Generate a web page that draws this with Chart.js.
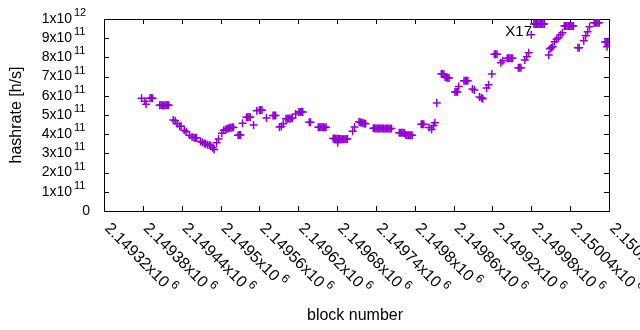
<!DOCTYPE html>
<html>
<head>
<meta charset="utf-8">
<script src="https://cdn.jsdelivr.net/npm/chart.js@4.4.0/dist/chart.umd.min.js"></script>
<style>
  html, body { margin: 0; padding: 0; background: #fff; }
  #wrap { width: 640px; height: 330px; }
</style>
</head>
<body>
<div id="wrap"><canvas id="hashChart" width="640" height="330"></canvas></div>
<script>
// block numbers and hashrate (in units of 1e11 h/s)
// one line per cluster, same layout in both arrays
const blocks = [
  2149378, 2149383, 2149385,
  2149391, 2149393, 2149395,
  2149406, 2149408, 2149410, 2149412, 2149414, 2149416, 2149418, 2149420,
  2149427, 2149430, 2149433, 2149437, 2149439,
  2149444, 2149447, 2149452, 2149456, 2149459, 2149461, 2149463,
  2149469, 2149472, 2149475, 2149477, 2149480, 2149483, 2149485, 2149488, 2149490,
  2149494, 2149497, 2149502, 2149505, 2149508, 2149510, 2149512, 2149514, 2149516, 2149518, 2149520,
  2149527, 2149529, 2149531, 2149534,
  2149540, 2149542, 2149544, 2149546, 2149551,
  2149556, 2149560, 2149562, 2149564, 2149571,
  2149581, 2149583, 2149585, 2149591, 2149594, 2149597,
  2149601, 2149603, 2149605, 2149607, 2149609, 2149611, 2149616,
  2149621, 2149623, 2149625, 2149627, 2149637, 2149639,
  2149651, 2149653, 2149655, 2149657, 2149659, 2149661, 2149663,
  2149674, 2149676, 2149678, 2149680, 2149682, 2149684, 2149686, 2149688, 2149690, 2149692, 2149694, 2149696,
  2149681, 2149704, 2149707,
  2149714, 2149716, 2149718, 2149720, 2149722, 2149724,
  2149736, 2149738, 2149740, 2149742, 2149744, 2149746, 2149748, 2149750, 2149752, 2149754, 2149756, 2149758, 2149760, 2149762, 2149764,
  2149776, 2149778, 2149780, 2149782, 2149784,
  2149786, 2149788, 2149790, 2149792, 2149794, 2149796,
  2149810, 2149812, 2149814,
  2149822, 2149826, 2149829, 2149831, 2149834,
  2149841, 2149843, 2149845, 2149847, 2149849, 2149851, 2149853,
  2149862, 2149864, 2149866, 2149868,
  2149876, 2149878, 2149880, 2149882,
  2149889, 2149892, 2149900, 2149903, 2149905,
  2149911, 2149914, 2149919,
  2149923, 2149925, 2149927,
  2149933, 2149936,
  2149943, 2149945, 2149947, 2149949, 2149951,
  2149960, 2149962, 2149964,
  2149970, 2149973, 2149976, 2149980,
  2149984, 2149986, 2149988, 2149990, 2149992, 2149994, 2149996, 2149998, 2150000,
  2150007, 2150009, 2150011, 2150013,
  2150016, 2150019, 2150022, 2150025, 2150028,
  2150031, 2150033, 2150035, 2150037, 2150039, 2150041, 2150043, 2150045,
  2150052, 2150054,
  2150061, 2150064, 2150067, 2150070,
  2150077, 2150079, 2150081, 2150083, 2150085,
  2150094, 2150096, 2150097, 2150098, 2150100
];
const hashrate = [
  5.87, 5.72, 5.56,
  5.87, 5.88, 5.87,
  5.51, 5.52, 5.51, 5.50, 5.51, 5.51, 5.52, 5.51,
  4.74, 4.70, 4.55, 4.41, 4.42,
  4.20, 4.13, 3.95, 3.85, 3.82, 3.82, 3.81,
  3.62, 3.58, 3.52, 3.50, 3.45, 3.42, 3.40, 3.30, 3.20,
  3.55, 3.75, 4.05, 4.20, 4.25, 4.28, 4.30, 4.33, 4.33, 4.35, 4.36,
  3.95, 3.96, 3.96, 4.57,
  4.88, 4.88, 4.89, 4.88, 4.48,
  5.22, 5.25, 5.26, 5.25, 4.84,
  4.98, 4.98, 4.98, 4.37, 4.40, 4.55,
  4.81, 4.81, 4.82, 4.81, 4.82, 4.85, 5.05,
  5.16, 5.16, 5.17, 5.16, 4.62, 4.62,
  4.36, 4.36, 4.37, 4.36, 4.36, 4.35, 4.36,
  3.77, 3.77, 3.76, 3.76, 3.76, 3.75, 3.75, 3.74, 3.74, 3.74, 3.75, 3.75,
  3.55, 4.16, 4.37,
  4.65, 4.62, 4.60, 4.58, 4.56, 4.54,
  4.31, 4.31, 4.30, 4.30, 4.30, 4.30, 4.31, 4.30, 4.30, 4.29, 4.30, 4.30, 4.30, 4.29, 4.30,
  4.08, 4.08, 4.07, 4.07, 4.06,
  3.96, 3.95, 3.95, 3.95, 3.94, 3.94,
  4.52, 4.52, 4.52,
  4.35, 4.25, 4.45, 4.60, 5.62,
  7.15, 7.14, 7.12, 6.97, 6.95, 6.94, 6.93,
  6.20, 6.21, 6.20, 6.48,
  6.78, 6.78, 6.78, 6.78,
  6.35, 6.30, 5.94, 5.90, 5.84,
  6.41, 6.57, 7.13,
  8.17, 8.17, 8.17,
  7.72, 7.82,
  7.96, 7.96, 7.96, 7.96, 7.96,
  7.46, 7.46, 7.46,
  7.87, 8.03, 8.24, 9.18,
  9.74, 9.74, 9.74, 9.74, 9.74, 9.74, 9.74, 9.74, 9.74,
  8.13, 8.45, 8.50, 8.55,
  8.81, 8.94, 9.02, 9.18, 9.28,
  9.63, 9.63, 9.63, 9.63, 9.63, 9.63, 9.63, 9.63,
  8.50, 8.50,
  8.87, 9.13, 9.33, 9.60,
  9.81, 9.81, 9.81, 9.81, 9.81,
  8.80, 8.80, 8.55, 8.81, 8.80
];

const xTicks = [2149320, 2149380, 2149440, 2149500, 2149560, 2149620, 2149680,
  2149740, 2149800, 2149860, 2149920, 2149980, 2150040, 2150100];
const xTickLabels = ["2.14932", "2.14938", "2.14944", "2.1495", "2.14956", "2.14962", "2.14968",
  "2.14974", "2.1498", "2.14986", "2.14992", "2.14998", "2.15004", "2.1501"];
const yTicks = [0, 1e11, 2e11, 3e11, 4e11, 5e11, 6e11, 7e11, 8e11, 9e11, 1e12];
const yTickBase = ["0", "1x10", "2x10", "3x10", "4x10", "5x10", "6x10", "7x10", "8x10", "9x10", "1x10"];
const yTickExp = ["", "11", "11", "11", "11", "11", "11", "11", "11", "11", "12"];

const FONT = '"Liberation Sans", Arial, sans-serif';
const PURPLE = "#9400d3";

const gnuplotAxes = {
  id: "gnuplotAxes",
  beforeDatasetsDraw(chart) {
    const { ctx, chartArea: a, scales: { x, y } } = chart;
    ctx.save();
    ctx.strokeStyle = "#000";
    ctx.lineWidth = 1;
    ctx.strokeRect(a.left + 0.5, a.top + 0.5, a.right - a.left, a.bottom - a.top);

    // inward ticks, mirrored on top and right
    ctx.beginPath();
    xTicks.forEach((v) => {
      const px = Math.round(x.getPixelForValue(v)) + 0.5;
      ctx.moveTo(px, a.bottom); ctx.lineTo(px, a.bottom - 5);
      ctx.moveTo(px, a.top); ctx.lineTo(px, a.top + 5);
    });
    yTicks.forEach((v) => {
      const py = Math.round(y.getPixelForValue(v)) + 0.5;
      ctx.moveTo(a.left, py); ctx.lineTo(a.left + 5, py);
      ctx.moveTo(a.right, py); ctx.lineTo(a.right - 5, py);
    });
    ctx.stroke();

    ctx.fillStyle = "#000";
    ctx.textBaseline = "middle";

    // y tick labels
    yTicks.forEach((v, i) => {
      const py = y.getPixelForValue(v);
      ctx.font = "14px " + FONT;
      ctx.textAlign = "right";
      if (!yTickExp[i]) {
        ctx.fillText(yTickBase[i], 90, py);
        return;
      }
      ctx.fillText(yTickBase[i], 72, py);
      ctx.font = "11px " + FONT;
      ctx.textAlign = "left";
      ctx.fillText(yTickExp[i], 74, py - 6);
    });

    // x tick labels, rotated -45 like gnuplot
    xTicks.forEach((v, i) => {
      const px = x.getPixelForValue(v);
      ctx.save();
      ctx.translate(px + 3, a.bottom + 15);
      ctx.rotate(Math.PI / 4);
      ctx.font = "16px " + FONT;
      ctx.textAlign = "left";
      const txt = xTickLabels[i] + "x10";
      ctx.fillText(txt, 0, 0);
      const w = ctx.measureText(txt).width;
      ctx.font = "12px " + FONT;
      ctx.fillText("6", w + 3, -6);
      ctx.restore();
    });

    // axis titles
    ctx.font = "16px " + FONT;
    ctx.textAlign = "center";
    ctx.fillText("block number", 355, 316);
    ctx.save();
    ctx.translate(17, (a.top + a.bottom) / 2);
    ctx.rotate(-Math.PI / 2);
    ctx.fillText("hashrate [h/s]", 0, 0);
    ctx.restore();

    // key
    ctx.font = "15px " + FONT;
    ctx.textAlign = "right";
    ctx.fillText("X17", 532, 32);
    ctx.restore();
  },
};

const ctx = document.getElementById("hashChart").getContext("2d");
new Chart(ctx, {
  type: "scatter",
  data: {
    datasets: [
      {
        label: "X17",
        data: blocks.map((b, i) => ({ x: b, y: hashrate[i] * 1e11 })),
        pointStyle: "cross",
        pointRadius: 4,
        pointHoverRadius: 4,
        borderColor: PURPLE,
        backgroundColor: PURPLE,
        borderWidth: 1.5,
      },
    ],
  },
  options: {
    responsive: false,
    animation: false,
    devicePixelRatio: 1,
    layout: { padding: { left: 104, right: 31, top: 19, bottom: 119 } },
    plugins: { legend: { display: false }, tooltip: { enabled: false } },
    scales: {
      x: { type: "linear", min: 2149320, max: 2150100, display: false },
      y: { type: "linear", min: 0, max: 1e12, display: false },
    },
  },
  plugins: [gnuplotAxes],
});
</script>
</body>
</html>
